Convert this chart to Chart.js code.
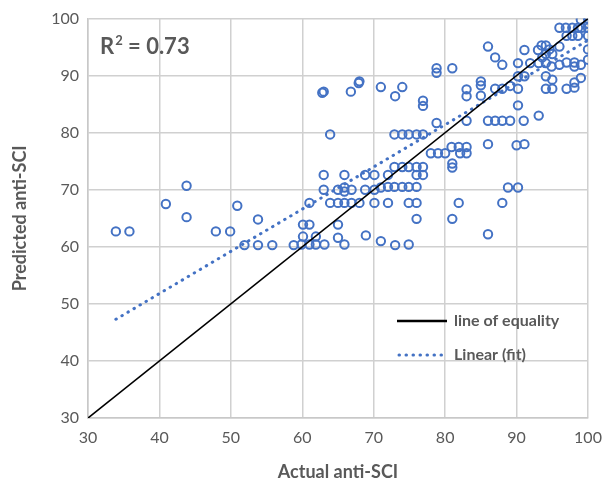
<!DOCTYPE html>
<html><head><meta charset="utf-8">
<script src="https://cdn.jsdelivr.net/npm/chart.js@4.4.1/dist/chart.umd.min.js"></script>
<style>html,body{margin:0;padding:0;background:#fff}#w{width:604px;height:495px;position:relative}</style>
</head><body><div id="w"><canvas id="c"></canvas></div>
<script>
const actual = [33.9,35.8,40.9,43.8,43.8,47.9,49.9,50.9,53.8,51.9,53.8,55.8,58.8,59.9,61.0,61.9,63.1,60.1,61.9,60.1,61.0,61.0,63.0,63.0,63.0,62.8,63.9,63.9,65.0,65.9,66.9,68.0,65.0,65.9,65.9,66.9,68.8,65.9,68.8,65.0,65.0,65.9,68.9,66.8,68.0,67.9,70.1,72.0,70.1,72.0,70.1,72.0,71.0,73.0,74.9,71.0,73.0,74.0,72.9,74.0,74.9,76.0,76.9,72.9,74.0,74.9,76.0,76.9,72.9,74.0,74.9,76.0,76.0,76.9,74.9,76.0,76.0,76.9,76.9,78.0,79.0,80.0,78.8,78.8,78.8,81.0,80.9,81.9,83.0,82.1,83.0,81.0,81.0,81.9,81.0,83.0,83.0,83.0,85.0,85.0,85.0,86.0,87.0,88.0,87.0,88.0,89.1,90.2,90.2,91.1,90.2,91.9,91.1,90.2,86.0,87.0,88.0,89.1,91.0,93.1,86.0,90.0,91.1,88.8,90.2,88.0,86.0,93.0,93.5,94.1,94.1,95.0,93.6,94.6,93.1,94.1,94.9,96.0,96.0,97.0,98.1,98.1,99.0,100,100,99.0,98.1,98.1,97.0,95.0,94.1,94.1,95.0,96.0,96.9,97.8,98.6,99.1,100,97.0,97.8,98.6,100,99.0,100,100,71.0];
const predicted = [62.7,62.7,67.5,70.7,65.2,62.7,62.7,67.2,64.8,60.3,60.3,60.3,60.3,60.4,60.4,60.4,60.4,61.8,61.8,63.9,63.9,67.7,72.6,70.0,87.2,87.0,79.7,67.7,67.7,67.7,67.7,67.7,70.0,70.4,69.7,70.0,70.0,72.6,72.6,63.9,61.6,60.4,62.0,87.2,89.0,88.7,72.6,72.6,70.0,70.5,67.7,67.7,61.0,60.3,60.4,88.0,86.4,88.0,79.7,79.7,79.7,79.7,79.7,74.0,74.0,74.0,74.0,74.0,70.5,70.5,70.5,70.5,72.6,72.6,67.7,67.7,64.9,85.6,84.7,76.4,76.4,76.4,91.3,90.5,81.7,91.3,77.5,77.5,77.5,76.4,76.4,74.6,73.9,67.7,64.9,87.6,86.4,82.1,89.0,88.3,86.5,95.1,93.2,91.9,87.7,87.7,88.2,87.7,89.9,89.9,92.2,92.2,94.5,84.8,82.1,82.1,82.1,82.1,82.1,83.0,78.0,77.8,78.0,70.4,70.4,67.7,62.2,94.5,95.3,95.3,93.8,93.8,93.2,94.6,92.2,92.2,91.6,95.1,91.9,92.3,92.3,91.6,91.9,94.6,92.8,89.6,88.8,87.9,87.7,89.3,89.9,87.7,87.7,98.4,98.4,98.4,98.4,98.4,98.4,97.0,97.0,97.0,97.0,99.8,100,99.1,70.4];
const equalityX = [30, 100];
const equalityY = [30, 100];
const fitX = [33.9, 100];
const fitY = [47.3, 96.2];
const xTickValues = [30,40,50,60,70,80,90,100];
const yTickValues = [30,40,50,60,70,80,90,100];
const seriesNames = ['line of equality', 'Linear (fit)'];
const xTitle = 'Actual anti-SCI';
const yTitle = 'Predicted anti-SCI';
const rLabel = ['R', '2', ' = 0.73'];

const FONT = 'Lato, "Open Sans", sans-serif';
const GRAY = '#595959';
const BLUE = '#4472C4';

const pts = actual.map((x, i) => ({x, y: predicted[i]}));
const eq = equalityX.map((x, i) => ({x, y: equalityY[i]}));
const fit = fitX.map((x, i) => ({x, y: fitY[i]}));

const overlay = {
  id: 'overlay',
  afterDraw(chart) {
    const ctx = chart.ctx;
    const a = chart.chartArea;
    ctx.save();
    ctx.fillStyle = GRAY;
    ctx.textBaseline = 'alphabetic';
    ctx.textAlign = 'left';
    let x = 100, y = 54;
    ctx.font = 'bold 22px ' + FONT;
    ctx.fillText(rLabel[0], x, y);
    x += ctx.measureText(rLabel[0]).width + 1;
    ctx.font = 'bold 13px ' + FONT;
    ctx.fillText(rLabel[1], x, y - 9);
    x += ctx.measureText(rLabel[1]).width;
    ctx.font = 'bold 22px ' + FONT;
    ctx.fillText(rLabel[2], x, y);
    ctx.font = 'bold 16px ' + FONT;
    ctx.textBaseline = 'middle';
    ctx.strokeStyle = '#000';
    ctx.lineWidth = 2.5;
    ctx.beginPath(); ctx.moveTo(397, 321); ctx.lineTo(447, 321); ctx.stroke();
    ctx.fillText(seriesNames[0], 454, 321);
    ctx.strokeStyle = BLUE;
    ctx.lineWidth = 3;
    ctx.lineCap = 'round';
    ctx.setLineDash([0.5, 6.5]);
    ctx.beginPath(); ctx.moveTo(399, 355); ctx.lineTo(445, 355); ctx.stroke();
    ctx.setLineDash([]);
    ctx.fillText(seriesNames[1], 454, 355);
    ctx.font = 'bold 18px ' + FONT;
    ctx.textAlign = 'center';
    ctx.fillText(xTitle, (a.left + a.right) / 2, 472);
    ctx.translate(20, (a.top + a.bottom) / 2);
    ctx.rotate(-Math.PI / 2);
    ctx.fillText(yTitle, 0, 0);
    ctx.restore();
  }
};

new Chart(document.getElementById('c'), {
  type: 'scatter',
  data: {
    datasets: [
      {label: 'data', data: pts, showLine: false, pointStyle: 'circle', pointRadius: 4.2,
       pointBorderWidth: 2, pointBorderColor: BLUE, pointBackgroundColor: 'rgba(0,0,0,0)', order: 1},
      {label: seriesNames[0], data: eq, showLine: true, borderColor: '#000', borderWidth: 1.6,
       pointRadius: 0, fill: false, order: 0},
      {label: seriesNames[1], data: fit, showLine: true, borderColor: BLUE, borderWidth: 3,
       borderDash: [0.5, 6.5], borderCapStyle: 'round', pointRadius: 0, fill: false, order: 2}
    ]
  },
  options: {
    responsive: true, maintainAspectRatio: false, animation: false,
    layout: {padding: {top: 15, right: 2, left: 0, bottom: 0}},
    plugins: {legend: {display: false}, tooltip: {enabled: false}},
    scales: {
      x: {
        type: 'linear', min: 30, max: 100,
        afterFit(s) { s.height = 77; s.paddingRight = 16; },
        afterBuildTicks(s) { s.ticks = xTickValues.map(v => ({value: v})); },
        grid: {color: '#d0d0d0', lineWidth: 1.5, drawTicks: false},
        border: {color: '#c8c8c8', width: 1.5},
        ticks: {padding: 10, color: GRAY, font: {family: FONT, size: 16}}
      },
      y: {
        type: 'linear', min: 30, max: 100,
        afterFit(s) { s.width = 88; },
        afterBuildTicks(s) { s.ticks = yTickValues.map(v => ({value: v})); },
        grid: {color: '#d0d0d0', lineWidth: 1.5, drawTicks: false},
        border: {color: '#c8c8c8', width: 1.5},
        ticks: {padding: 9, color: GRAY, font: {family: FONT, size: 16}}
      }
    }
  },
  plugins: [overlay]
});
</script></body></html>
